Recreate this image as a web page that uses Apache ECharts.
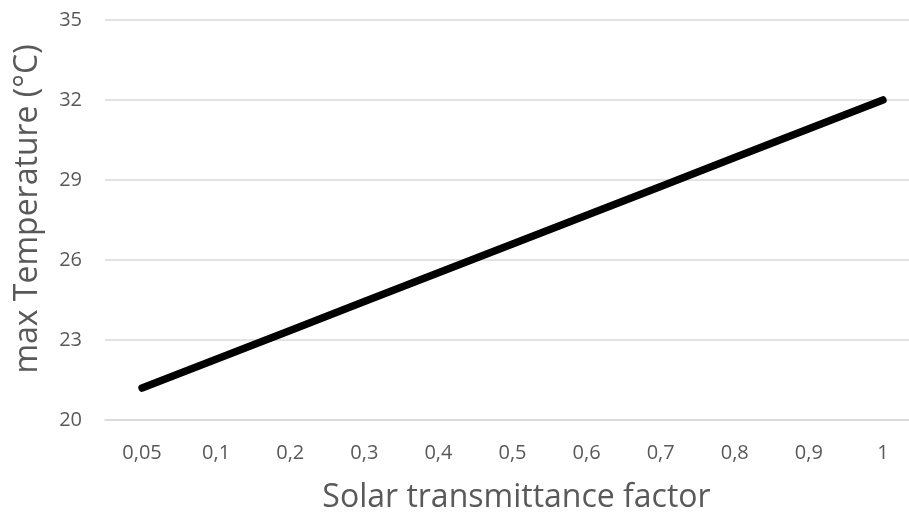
<!DOCTYPE html>
<html>
<head>
<meta charset="utf-8">
<script src="https://cdn.jsdelivr.net/npm/echarts@6/dist/echarts.min.js"></script>
<style>
  html, body { margin: 0; padding: 0; background: #fff; }
  #chart { width: 909px; height: 515px; }
</style>
</head>
<body>
<div id="chart"></div>
<script>
// Solar transmittance factor values (x categories, decimal comma)
const factors = ['0,05', '0,1', '0,2', '0,3', '0,4', '0,5', '0,6', '0,7', '0,8', '0,9', '1'];
// Maximum temperature (°C) for each factor
const maxTemp = [21.2, 22.28, 23.36, 24.44, 25.52, 26.6, 27.68, 28.76, 29.84, 30.92, 32.0];
// Y axis range and step
const yMin = 20, yMax = 35, yStep = 3;

const fontFamily = '"Open Sans", "Liberation Sans", sans-serif';
const chart = echarts.init(document.getElementById('chart'), null, { renderer: 'canvas' });

chart.setOption({
  animation: false,
  backgroundColor: '#ffffff',
  grid: {
    left: 105, right: -11, top: 20, bottom: 95,
    containLabel: false,
    outerBoundsMode: 'none'
  },
  xAxis: {
    type: 'category',
    data: factors,
    boundaryGap: true,
    name: 'Solar transmittance factor',
    nameLocation: 'middle',
    nameGap: 62,
    nameTextStyle: { fontSize: 32, color: '#595959', fontFamily, padding: [0, 0, 0, 8] },
    axisLine: { show: true, lineStyle: { color: '#d9d9d9', width: 1.5 } },
    axisTick: { show: false },
    axisLabel: { fontSize: 20, color: '#595959', fontFamily, margin: 23 },
    splitLine: { show: false }
  },
  yAxis: {
    type: 'value',
    min: yMin,
    max: yMax,
    interval: yStep,
    name: 'max Temperature (°C)',
    nameLocation: 'middle',
    nameGap: 61,
    nameRotate: 90,
    // shift the title slightly upward along the axis
    nameTextStyle: { fontSize: 32, color: '#595959', fontFamily, padding: [0, 0, 0, 22] },
    axisLine: { show: false },
    axisTick: { show: false },
    axisLabel: { fontSize: 20, color: '#595959', fontFamily, margin: 23 },
    splitLine: { show: true, lineStyle: { color: '#d9d9d9', width: 1.5 } }
  },
  series: [{
    type: 'line',
    data: maxTemp,
    showSymbol: false,
    symbol: 'none',
    lineStyle: { color: '#000000', width: 7.5, cap: 'round', join: 'round' },
    z: 5
  }]
});
</script>
</body>
</html>
